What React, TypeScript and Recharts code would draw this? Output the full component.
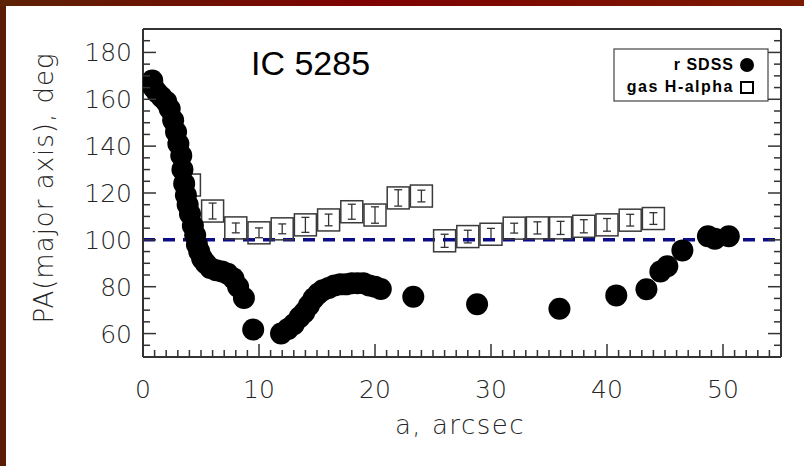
import React from 'react';
import { ScatterChart, Scatter, XAxis, YAxis, ReferenceLine, ErrorBar } from 'recharts';

// r SDSS isophote fits
const rA = [0.8, 0.9, 1.2, 1.6, 2.0, 2.3, 2.6, 2.85, 3.05, 3.3, 3.4, 3.55, 3.7, 3.85, 4.05, 4.3, 4.5, 4.65, 4.85, 5.1, 5.4, 5.8, 6.3, 6.8, 7.3, 7.8, 8.2, 8.7, 9.5, 11.9, 12.5, 13.0, 13.5, 13.9, 14.3, 14.7, 15.1, 15.5, 16.0, 16.5, 17.0, 17.5, 18.0, 18.5, 19.0, 19.5, 20.0, 20.5, 23.3, 28.8, 35.9, 40.8, 43.4, 44.6, 45.2, 46.5, 48.7, 49.3, 50.5];
const rPA = [168, 165, 163, 161, 159, 156, 151, 146, 141, 136, 130, 124, 119, 115, 111, 106, 102, 98, 95, 92, 90, 88, 87, 86.5, 85.5, 83.5, 80, 75.2, 61.7, 60, 62, 64, 67, 69, 72, 75, 77, 78.5, 79.5, 80.5, 81, 81, 81.5, 81.5, 81.5, 80.5, 80, 79, 75.7, 72.5, 70.6, 76.3, 78.9, 86.5, 88.7, 95.5, 101.5, 100.5, 101.5];

// gas H-alpha kinematic PA
const gasA = [4, 6, 8, 10, 12, 14, 16, 18, 20, 22, 24, 26, 28, 30, 32, 34, 36, 38, 40, 42, 44];
const gasPA = [123.4, 112.3, 105.1, 103, 104.7, 106.4, 108.5, 112, 110.6, 117.9, 118.7, 99.6, 101.4, 102.4, 105, 105.1, 105.1, 105.8, 106.4, 108.4, 109.1];
const gasErr = [3, 3.4, 2.1, 2.1, 2.1, 3.2, 2.5, 3.2, 3.5, 3.5, 2.5, 2.8, 2.7, 2.5, 2.1, 2.6, 2.8, 2.8, 2.7, 2.5, 2.5];

const xTickLabels = [0, 10, 20, 30, 40, 50];
const yTickLabels = [60, 80, 100, 120, 140, 160, 180];
const xTicks = Array.from({ length: 56 }, (_, i) => i);
const yTicks = Array.from({ length: 29 }, (_, i) => 50 + i * 5);
const diskPA = 100;

const rData = rA.map((a, i) => ({ a, pa: rPA[i] }));
const gasData = gasA.map((a, i) => ({ a, pa: gasPA[i], err: gasErr[i] }));

const axisColor = '#333';
const textColor = '#262626';
const labelFont = '"DejaVu Sans", sans-serif';

function makeTick(side: 'bottom' | 'top' | 'left' | 'right') {
  return (props: any) => {
    const { x, y, payload } = props;
    const v = payload.value;
    const major = side === 'bottom' || side === 'top' ? xTickLabels.includes(v) : yTickLabels.includes(v);
    const len = major ? 13 : 7;
    let line;
    if (side === 'bottom') line = <line x1={x} x2={x} y1={y} y2={y - len} />;
    else if (side === 'top') line = <line x1={x} x2={x} y1={y} y2={y + len} />;
    else if (side === 'left') line = <line x1={x} x2={x + len} y1={y} y2={y} />;
    else line = <line x1={x} x2={x - len} y1={y} y2={y} />;
    return (
      <g stroke={axisColor} strokeWidth={1.5}>
        {line}
        {major && side === 'bottom' && (
          <text x={x} y={y + 41} textAnchor="middle" stroke="none" fill={textColor} fontSize={25} fontFamily={labelFont} fontWeight={200}>{v}</text>
        )}
        {major && side === 'left' && (
          <text x={x - 11} y={y + 9} textAnchor="end" stroke="none" fill={textColor} fontSize={25} fontFamily={labelFont} fontWeight={200}>{v}</text>
        )}
      </g>
    );
  };
}

const GasSquare = (props: any) => {
  const { cx, cy } = props;
  return <rect x={cx - 11} y={cy - 11} width={22} height={22} fill="none" stroke="#3a3a3a" strokeWidth={1.5} />;
};

const RDot = (props: any) => {
  const { cx, cy } = props;
  return <circle cx={cx} cy={cy} r={11} fill="#000" />;
};

export default function App() {
  return (
    <div style={{ position: 'absolute', left: 0, top: 0, width: 804, height: 466, background: '#5c1d06' }}>
      <div style={{ position: 'absolute', left: 0, top: 0, width: 804, height: 6, background: 'linear-gradient(90deg, #5c2206 0%, #7e0202 45%, #7a1a02 100%)' }} />
      <div style={{ position: 'absolute', left: 6, top: 6, width: 798, height: 460, background: '#fff' }} />
      <div style={{ position: 'absolute', left: 0, top: 0 }}>
        <ScatterChart width={804} height={466} margin={{ top: 28, right: 22, bottom: 108, left: 142 }}>
          <XAxis xAxisId="b" dataKey="a" type="number" domain={[0, 55]} allowDataOverflow ticks={xTicks} interval={0}
            height={1} tickSize={0} tickMargin={0} tickLine={false} tick={makeTick('bottom')}
            axisLine={{ stroke: axisColor, strokeWidth: 2 }} />
          <XAxis xAxisId="t" orientation="top" type="number" domain={[0, 55]} allowDataOverflow ticks={xTicks} interval={0}
            height={1} tickSize={0} tickMargin={0} tickLine={false} tick={makeTick('top')}
            axisLine={{ stroke: axisColor, strokeWidth: 2 }} />
          <YAxis yAxisId="l" dataKey="pa" type="number" domain={[50, 190]} allowDataOverflow ticks={yTicks} interval={0}
            width={1} tickSize={0} tickMargin={0} tickLine={false} tick={makeTick('left')}
            axisLine={{ stroke: axisColor, strokeWidth: 2 }} />
          <YAxis yAxisId="r" orientation="right" type="number" domain={[50, 190]} allowDataOverflow ticks={yTicks} interval={0}
            width={1} tickSize={0} tickMargin={0} tickLine={false} tick={makeTick('right')}
            axisLine={{ stroke: axisColor, strokeWidth: 2 }} />
          <Scatter name="gas H-alpha" data={gasData} xAxisId="b" yAxisId="l" shape={GasSquare} isAnimationActive={false}>
            <ErrorBar dataKey="err" direction="y" width={4} stroke="#333" strokeWidth={1.3} />
          </Scatter>
          <Scatter name="r SDSS" data={rData} xAxisId="b" yAxisId="l" fill="#000" shape={RDot} isAnimationActive={false} />
          <ReferenceLine y={diskPA} xAxisId="b" yAxisId="l" stroke="#0c0c86" strokeWidth={3.5} strokeDasharray="12 8" />
        </ScatterChart>
      </div>
      <svg width={804} height={466} style={{ position: 'absolute', left: 0, top: 0, pointerEvents: 'none' }}>
        <text x={251} y={75} fontSize={34} fontFamily='"Liberation Sans", Arial, sans-serif' fill="#000">IC  5285</text>
        <text x={460} y={434} textAnchor="middle" fontSize={26} fontFamily={labelFont} fontWeight={200} fill={textColor} letterSpacing={1.5}>a, arcsec</text>
        <text transform="translate(53,188) rotate(-90)" textAnchor="middle" fontSize={26} fontFamily={labelFont} fontWeight={200} fill={textColor} letterSpacing={1}>PA(major axis), deg</text>
        <rect x={614} y={49} width={154} height={52} fill="#fff" stroke="#444" strokeWidth={1.2} />
        <text x={734} y={70} textAnchor="end" fontSize={16} fontWeight="bold" fontFamily='"Liberation Sans", Arial, sans-serif' letterSpacing={1} fill="#000">r SDSS</text>
        <circle cx={747} cy={65} r={7} fill="#000" />
        <text x={734} y={92} textAnchor="end" fontSize={16} fontWeight="bold" fontFamily='"Liberation Sans", Arial, sans-serif' letterSpacing={1.5} fill="#000">gas H-alpha</text>
        <rect x={741} y={82} width={12} height={11} fill="none" stroke="#000" strokeWidth={2} />
      </svg>
    </div>
  );
}
